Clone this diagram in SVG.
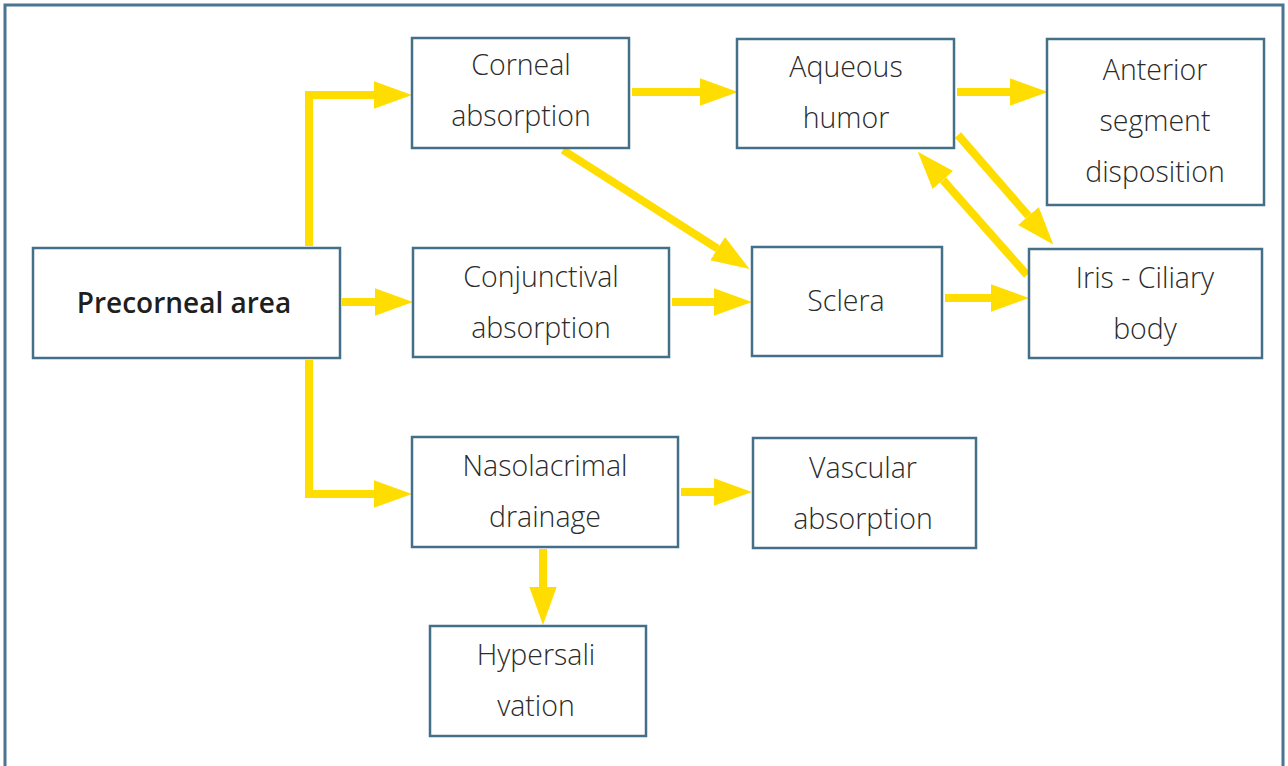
<svg xmlns="http://www.w3.org/2000/svg" width="1288" height="766" viewBox="0 0 1288 766">
<style>
.box{fill:#fff;stroke:#446f89;stroke-width:2.5}
.t{font-family:"Open Sans","Noto Sans",sans-serif;font-size:28.5px;fill:#2b2b2b;text-anchor:middle;font-weight:300}
.b{font-family:"Open Sans","Noto Sans",sans-serif;font-size:28px;fill:#1f1f1f;text-anchor:middle;font-weight:600}
.c{fill:none;stroke:#FFDD00;stroke-width:8;stroke-linejoin:miter;marker-end:url(#ah)}
</style>
<defs>
<marker id="ah" markerUnits="userSpaceOnUse" markerWidth="40" markerHeight="30" viewBox="0 -14 38 28" refX="0" refY="0" orient="auto">
<path d="M0,-13 L36,0 L0,13 z" fill="#FFDD00"/>
</marker>
</defs>
<rect x="5" y="5" width="1278" height="780" fill="#fff" stroke="#4a7590" stroke-width="3"/>
<g id="connectors">
<path class="c" d="M309,246 V95 H374"/>
<path class="c" d="M342,302 H375"/>
<path class="c" d="M309,360 V494 H374"/>
<path class="c" d="M632,92 H700"/>
<path class="c" d="M957,92 H1010"/>
<path class="c" d="M563,150 L717.6,248.6"/>
<path class="c" d="M672,302 H714"/>
<path class="c" d="M945,298 H991"/>
<path class="c" d="M958,135 L1028.4,215.9"/>
<path class="c" d="M1027,275 L942.9,180"/>
<path class="c" d="M681,492 H714"/>
<path class="c" d="M543,549 V587"/>
</g>
<g id="corneal"><rect class="box" x="412" y="38" width="217" height="110"/><text class="t" x="521" y="75">Corneal</text><text class="t" x="521" y="126">absorption</text></g>
<g id="aqueous"><rect class="box" x="737" y="39" width="217" height="109"/><text class="t" x="846" y="77">Aqueous</text><text class="t" x="846" y="128">humor</text></g>
<g id="anterior"><rect class="box" x="1047" y="39" width="217" height="166"/><text class="t" x="1155" y="80">Anterior</text><text class="t" x="1155" y="131">segment</text><text class="t" x="1155" y="182">disposition</text></g>
<g id="precorneal"><rect class="box" x="33" y="248" width="307" height="110"/><text class="b" x="184" y="313">Precorneal area</text></g>
<g id="conjunctival"><rect class="box" x="413" y="248" width="256" height="109"/><text class="t" x="541" y="287">Conjunctival</text><text class="t" x="541" y="338">absorption</text></g>
<g id="sclera"><rect class="box" x="752" y="247" width="190" height="109"/><text class="t" x="846" y="311">Sclera</text></g>
<g id="iris"><rect class="box" x="1029" y="249" width="233" height="109"/><text class="t" x="1145" y="288">Iris - Ciliary</text><text class="t" x="1145" y="339">body</text></g>
<g id="nasolacrimal"><rect class="box" x="412" y="437" width="266" height="110"/><text class="t" x="545" y="476">Nasolacrimal</text><text class="t" x="545" y="527">drainage</text></g>
<g id="vascular"><rect class="box" x="753" y="438" width="223" height="110"/><text class="t" x="863" y="478">Vascular</text><text class="t" x="863" y="529">absorption</text></g>
<g id="hyper"><rect class="box" x="430" y="626" width="216" height="110"/><text class="t" x="536" y="665">Hypersali</text><text class="t" x="536" y="716">vation</text></g>
</svg>
